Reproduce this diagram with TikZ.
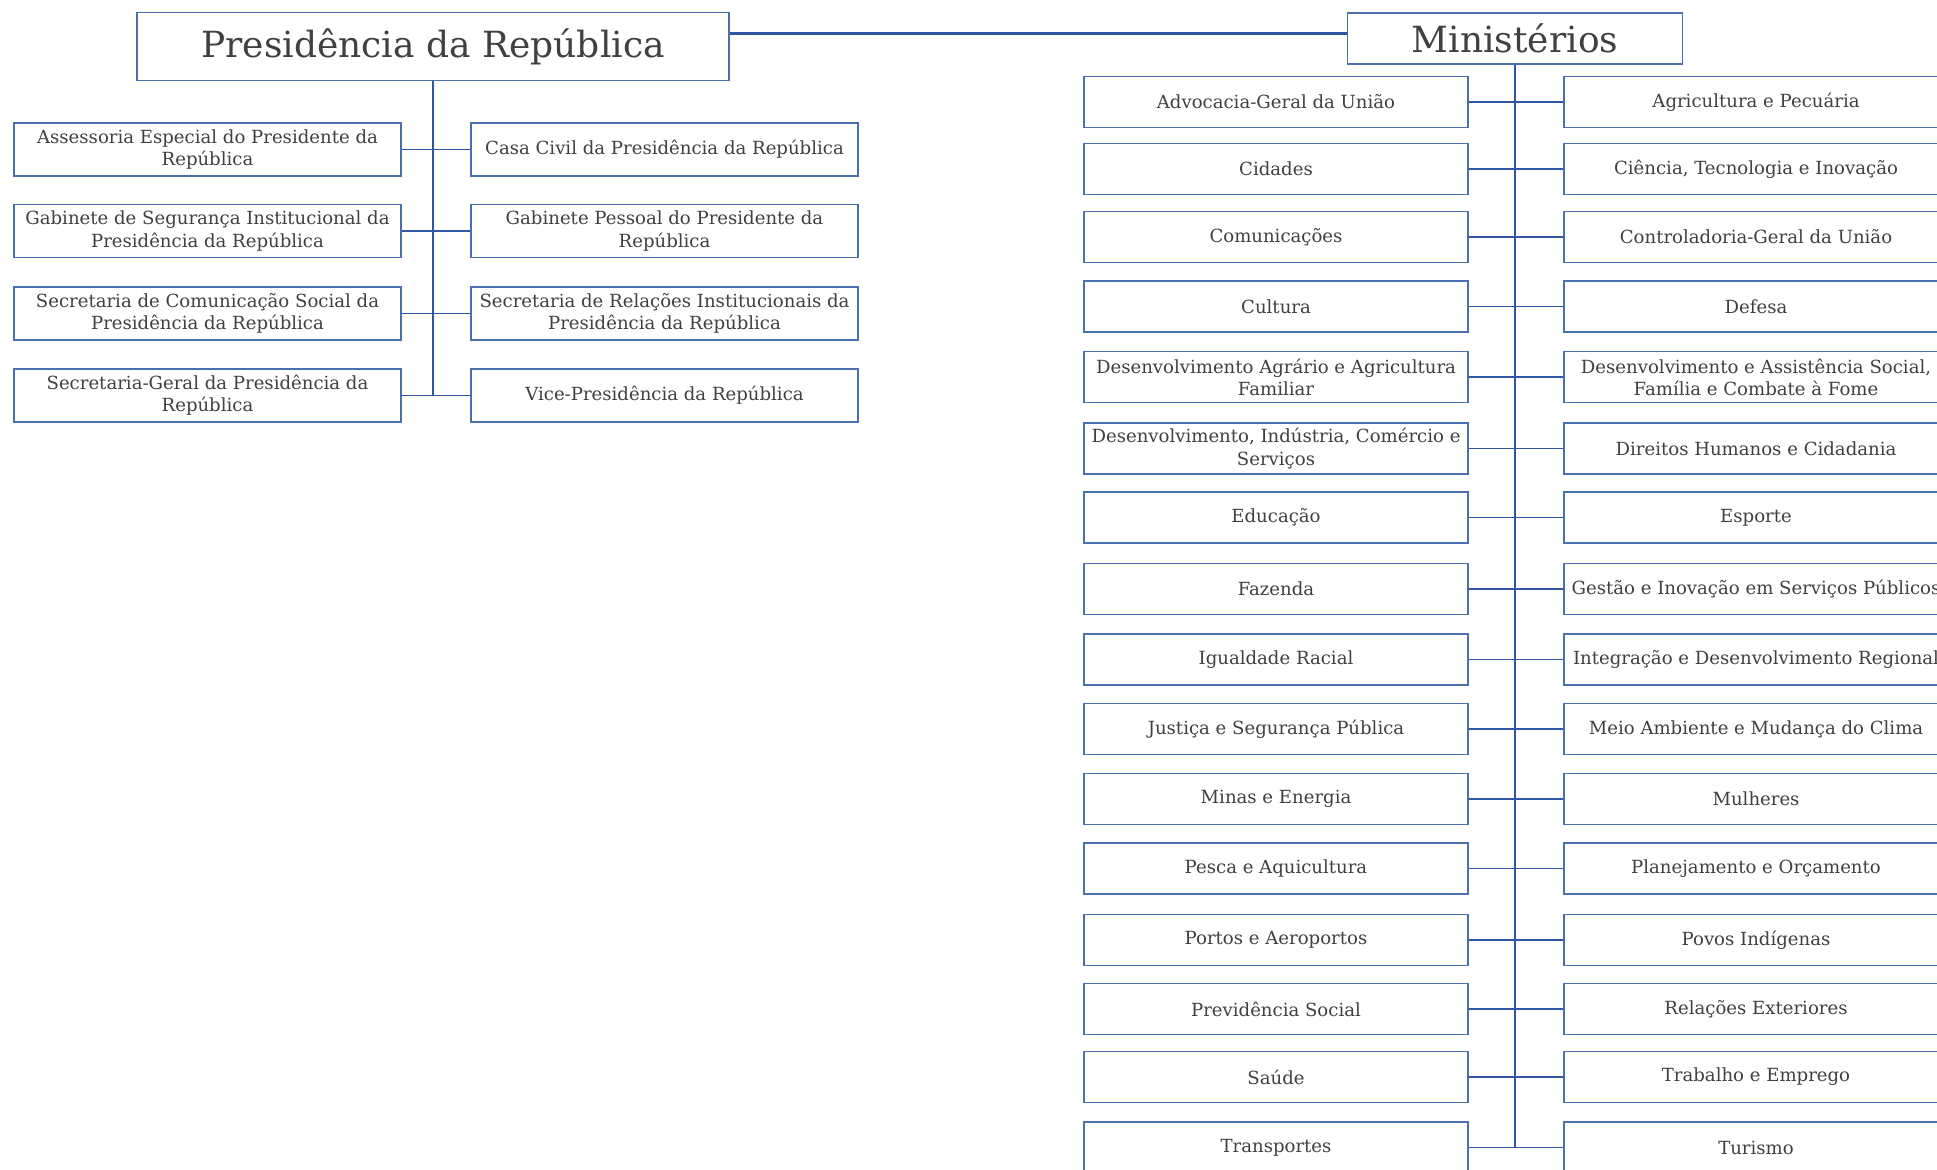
\documentclass[tikz,border=0pt]{standalone}
\usepackage{fontspec}
\setmainfont{DejaVu Serif}
\usepackage{tikz}
\usetikzlibrary{positioning,calc}
\definecolor{boxblue}{RGB}{74,111,176}
\definecolor{lineblue}{RGB}{47,86,160}
\definecolor{txtgray}{RGB}{64,64,64}
\tikzset{
  headbox/.style={draw=boxblue, line width=0.9pt, fill=white, inner sep=0pt, align=center, text=txtgray, font=\fontsize{20.5}{24}\selectfont},
  presbox/.style={draw=boxblue, line width=0.9pt, fill=white, inner sep=0pt, align=center, text=txtgray, minimum width=7.74cm, minimum height=1.06cm, font=\fontsize{10.3}{12.6}\selectfont},
  minbox/.style={draw=boxblue, line width=0.9pt, fill=white, inner sep=0pt, align=center, text=txtgray, minimum width=7.68cm, minimum height=1.02cm, font=\fontsize{10.3}{12.6}\selectfont},
  trunkline/.style={draw=lineblue, line width=1.5pt},
  branchline/.style={draw=lineblue, line width=1.1pt}
}
\begin{document}
\begin{tikzpicture}
      \useasboundingbox (0,0) rectangle (38.74,-23.38);
      \clip (0,0) rectangle (38.74,-23.38);
      % heads
      \node[headbox, minimum width=11.84cm, minimum height=1.36cm] (pres) at (8.66,-0.93) {Presidência da República};
      \node[headbox, minimum width=6.70cm, minimum height=1.03cm] (mins) at (30.30,-0.77) {Ministérios};
      % presidencia
      \node[presbox] (pa1) at (4.15,-2.99) {Assessoria Especial do Presidente da\\República};
      \node[presbox] (pa2) at (4.15,-4.62) {Gabinete de Segurança Institucional da\\Presidência da República};
      \node[presbox] (pa3) at (4.15,-6.27) {Secretaria de Comunicação Social da\\Presidência da República};
      \node[presbox] (pa4) at (4.15,-7.91) {Secretaria-Geral da Presidência da\\República};
      \node[presbox] (pb1) at (13.29,-2.99) {Casa Civil da Presidência da República};
      \node[presbox] (pb2) at (13.29,-4.62) {Gabinete Pessoal do Presidente da\\República};
      \node[presbox] (pb3) at (13.29,-6.27) {Secretaria de Relações Institucionais da\\Presidência da República};
      \node[presbox] (pb4) at (13.29,-7.91) {Vice-Presidência da República};
      % ministerios
      \node[minbox] (ma1) at (25.52,-2.04) {Advocacia-Geral da União};
      \node[minbox] (ma2) at (25.52,-3.38) {Cidades};
      \node[minbox] (ma3) at (25.52,-4.74) {Comunicações};
      \node[minbox] (ma4) at (25.52,-6.13) {Cultura};
      \node[minbox] (ma5) at (25.52,-7.54) {Desenvolvimento Agrário e Agricultura\\Familiar};
      \node[minbox] (ma6) at (25.52,-8.97) {Desenvolvimento, Indústria, Comércio e\\Serviços};
      \node[minbox] (ma7) at (25.52,-10.35) {Educação};
      \node[minbox] (ma8) at (25.52,-11.78) {Fazenda};
      \node[minbox] (ma9) at (25.52,-13.19) {Igualdade Racial};
      \node[minbox] (ma10) at (25.52,-14.58) {Justiça e Segurança Pública};
      \node[minbox] (ma11) at (25.52,-15.98) {Minas e Energia};
      \node[minbox] (ma12) at (25.52,-17.37) {Pesca e Aquicultura};
      \node[minbox] (ma13) at (25.52,-18.80) {Portos e Aeroportos};
      \node[minbox] (ma14) at (25.52,-20.18) {Previdência Social};
      \node[minbox] (ma15) at (25.52,-21.54) {Saúde};
      \node[minbox] (ma16) at (25.52,-22.95) {Transportes};
      \node[minbox] (mb1) at (35.12,-2.04) {Agricultura e Pecuária};
      \node[minbox] (mb2) at (35.12,-3.38) {Ciência, Tecnologia e Inovação};
      \node[minbox] (mb3) at (35.12,-4.74) {Controladoria-Geral da União};
      \node[minbox] (mb4) at (35.12,-6.13) {Defesa};
      \node[minbox] (mb5) at (35.12,-7.54) {Desenvolvimento e Assistência Social,\\Família e Combate à Fome};
      \node[minbox] (mb6) at (35.12,-8.97) {Direitos Humanos e Cidadania};
      \node[minbox] (mb7) at (35.12,-10.35) {Esporte};
      \node[minbox] (mb8) at (35.12,-11.78) {Gestão e Inovação em Serviços Públicos};
      \node[minbox] (mb9) at (35.12,-13.19) {Integração e Desenvolvimento Regional};
      \node[minbox] (mb10) at (35.12,-14.58) {Meio Ambiente e Mudança do Clima};
      \node[minbox] (mb11) at (35.12,-15.98) {Mulheres};
      \node[minbox] (mb12) at (35.12,-17.37) {Planejamento e Orçamento};
      \node[minbox] (mb13) at (35.12,-18.80) {Povos Indígenas};
      \node[minbox] (mb14) at (35.12,-20.18) {Relações Exteriores};
      \node[minbox] (mb15) at (35.12,-21.54) {Trabalho e Emprego};
      \node[minbox] (mb16) at (35.12,-22.95) {Turismo};
      % lines
      \draw[trunkline] ([yshift=1mm]mins.west) -- ([yshift=1mm]mins.west -| pres.east);
      \draw[branchline] (pres.south) -- (pres.south |- pa4);
      \draw[branchline] (pa1) -- (pb1);
      \draw[branchline] (pa2) -- (pb2);
      \draw[branchline] (pa3) -- (pb3);
      \draw[branchline] (pa4) -- (pb4);
      \draw[trunkline] (mins.south) -- (mins.south |- ma16);
      \draw[branchline] (ma1) -- (mb1);
      \draw[branchline] (ma2) -- (mb2);
      \draw[branchline] (ma3) -- (mb3);
      \draw[branchline] (ma4) -- (mb4);
      \draw[branchline] (ma5) -- (mb5);
      \draw[branchline] (ma6) -- (mb6);
      \draw[branchline] (ma7) -- (mb7);
      \draw[branchline] (ma8) -- (mb8);
      \draw[branchline] (ma9) -- (mb9);
      \draw[branchline] (ma10) -- (mb10);
      \draw[branchline] (ma11) -- (mb11);
      \draw[branchline] (ma12) -- (mb12);
      \draw[branchline] (ma13) -- (mb13);
      \draw[branchline] (ma14) -- (mb14);
      \draw[branchline] (ma15) -- (mb15);
      \draw[branchline] (ma16) -- (mb16);
    \end{tikzpicture}
\end{document}
